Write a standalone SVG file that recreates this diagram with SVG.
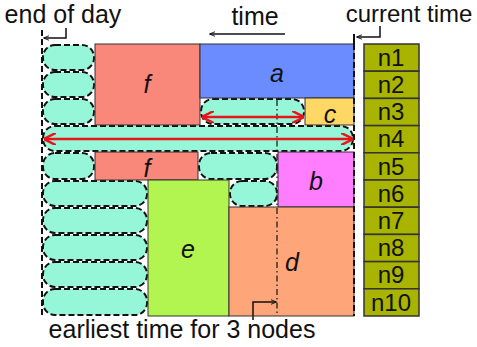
<svg xmlns="http://www.w3.org/2000/svg" width="477" height="347" viewBox="0 0 477 347">
<defs>
<style>
text{font-family:"Liberation Sans",Arial,sans-serif;fill:#111}
.lbl{font-size:25px;text-anchor:middle}
.nl{font-size:24px;text-anchor:middle}
.it{font-style:italic}
.pill{fill:#96f7d8;stroke:#111;stroke-width:2;stroke-dasharray:6,3}
.box{stroke:#333;stroke-width:1}
.n{fill:#a8b400;stroke:#333;stroke-width:1.5}
.red{stroke:#e8141a;stroke-width:2.5;fill:none;marker-start:url(#rh);marker-end:url(#rh)}
.blk{stroke:#111;stroke-width:1.5;fill:none}
</style>
<marker id="rh" viewBox="0 0 10 10" refX="9" refY="5" markerWidth="5" markerHeight="5" orient="auto-start-reverse" markerUnits="strokeWidth"><path d="M0,0 L10,5 L0,10" fill="none" stroke="#e8141a" stroke-width="2"/></marker>
<marker id="bh" viewBox="0 0 10 10" refX="9" refY="5" markerWidth="6" markerHeight="6" orient="auto" markerUnits="userSpaceOnUse"><path d="M0,1 L10,5 L0,9" fill="none" stroke="#111" stroke-width="1.5"/></marker>
</defs>
<text x="63" y="23" class="lbl">end of day</text>
<text x="255" y="25" class="lbl">time</text>
<text x="409" y="22" class="lbl" style="font-size:24px">current time</text>
<text x="182" y="338" class="lbl">earliest time for 3 nodes</text>

<g id="pills">
<rect class="pill" x="43" y="45" width="51" height="25" rx="12"/>
<rect class="pill" x="43" y="72" width="51" height="25" rx="12"/>
<rect class="pill" x="43" y="99" width="51" height="25" rx="12"/>
<rect class="pill" x="43" y="126" width="310" height="25" rx="12"/>
<rect class="pill" x="201" y="99" width="103" height="25" rx="12"/>
<rect class="pill" x="43" y="153" width="51" height="26" rx="12"/>
<rect class="pill" x="199" y="153" width="78" height="26" rx="12"/>
<rect class="pill" x="43" y="181" width="104" height="25" rx="12"/>
<rect class="pill" x="230" y="181" width="47" height="25" rx="12"/>
<rect class="pill" x="43" y="208" width="104" height="25" rx="12"/>
<rect class="pill" x="43" y="235" width="104" height="25" rx="12"/>
<rect class="pill" x="43" y="262" width="104" height="25" rx="12"/>
<rect class="pill" x="43" y="289" width="104" height="26" rx="12"/>
</g>

<g id="node-f1"><rect class="box" x="95" y="44" width="105" height="81" fill="#f9877a"/><text x="147" y="93" class="lbl it">f</text></g>
<g id="node-a"><rect class="box" x="200" y="44" width="154" height="54" fill="#6a8cff"/><text x="277" y="82" class="lbl it">a</text></g>
<g id="node-c"><rect class="box" x="305" y="98" width="49" height="27" fill="#ffd764"/><text x="330" y="123" class="lbl it">c</text></g>
<g id="node-f2"><rect class="box" x="95" y="152" width="103" height="28" fill="#f9877a"/><text x="147" y="177" class="lbl it">f</text></g>
<g id="node-b"><rect class="box" x="278" y="152" width="76" height="55" fill="#ff7dff"/><text x="316" y="190" class="lbl it">b</text></g>
<g id="node-e"><rect class="box" x="148" y="180" width="81" height="136" fill="#b3f550"/><text x="188" y="258" class="lbl it">e</text></g>
<g id="node-d"><rect class="box" x="229" y="207" width="125" height="109" fill="#ffa57a"/><text x="292" y="271" class="lbl it">d</text></g>

<g id="nodes-n">
<rect class="n" x="364" y="44" width="55" height="27.2"/><text x="391" y="66" class="nl">n1</text>
<rect class="n" x="364" y="71.2" width="55" height="27.2"/><text x="391" y="93" class="nl">n2</text>
<rect class="n" x="364" y="98.4" width="55" height="27.2"/><text x="391" y="120" class="nl">n3</text>
<rect class="n" x="364" y="125.6" width="55" height="27.2"/><text x="391" y="147" class="nl">n4</text>
<rect class="n" x="364" y="152.8" width="55" height="27.2"/><text x="391" y="175" class="nl">n5</text>
<rect class="n" x="364" y="180" width="55" height="27.2"/><text x="391" y="202" class="nl">n6</text>
<rect class="n" x="364" y="207.2" width="55" height="27.2"/><text x="391" y="229" class="nl">n7</text>
<rect class="n" x="364" y="234.4" width="55" height="27.2"/><text x="391" y="256" class="nl">n8</text>
<rect class="n" x="364" y="261.6" width="55" height="27.2"/><text x="391" y="283" class="nl">n9</text>
<rect class="n" x="364" y="288.8" width="55" height="27.2"/><text x="391" y="311" class="nl">n10</text>
</g>

<g id="connectors">
<line x1="42" y1="30" x2="42" y2="316" stroke="#111" stroke-width="2" stroke-dasharray="6,3"/>
<line x1="354" y1="34" x2="354" y2="44" stroke="#111" stroke-width="2"/>
<line x1="354" y1="44" x2="354" y2="316" stroke="#111" stroke-width="2" stroke-dasharray="6,3"/>
<line x1="277" y1="100" x2="277" y2="315" stroke="#111" stroke-width="1.2" stroke-dasharray="6,3,1.5,3"/>
<path class="blk" d="M66,28 V38 H44" marker-end="url(#bh)"/>
<path class="blk" d="M380,26 V37 H357" marker-end="url(#bh)"/>
<path class="blk" d="M285,34 H210" stroke-width="1.2" marker-end="url(#bh)"/>
<path class="blk" d="M253,320 V302 H276" marker-end="url(#bh)"/>
<line class="red" x1="203" y1="117" x2="303" y2="117"/>
<line class="red" x1="45" y1="139" x2="352" y2="139"/>
</g>
</svg>
